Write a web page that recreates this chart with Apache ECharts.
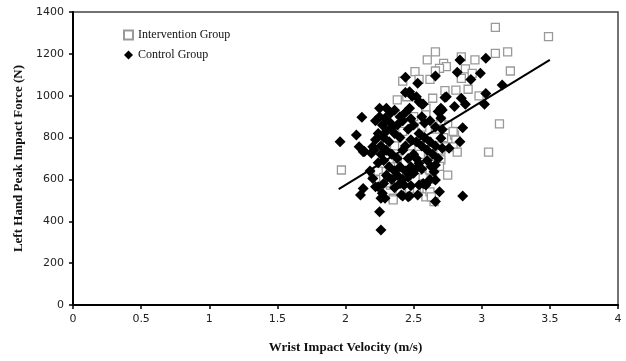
<!DOCTYPE html>
<html>
<head>
<meta charset="utf-8">
<script src="https://cdn.jsdelivr.net/npm/echarts@6/dist/echarts.min.js"></script>
<style>
  html, body { margin: 0; padding: 0; background: #fff; }
  #chart { width: 626px; height: 361px; }
</style>
</head>
<body>
<div id="chart"></div>
<script>
// x-axis ticks (m/s) and y-axis ticks (N)
const xTicks = { min: 0, max: 4, step: 0.5 };
const yTicks = { min: 0, max: 1400, step: 200 };

// open grey squares
const interventionGroup = [
  [3.10, 1327], [3.49, 1282], [2.66, 1209], [2.60, 1171], [2.85, 1186], [2.95, 1171],
  [3.10, 1202], [3.19, 1209], [3.21, 1118], [2.72, 1155], [2.74, 1139], [2.69, 1131],
  [2.66, 1118], [2.51, 1115], [2.42, 1070], [2.54, 1078], [2.62, 1078], [2.88, 1128],
  [2.93, 1107], [2.85, 1083], [2.90, 1031], [2.81, 1027], [2.73, 1024], [2.38, 980],
  [2.64, 988], [2.98, 999], [2.59, 940], [2.59, 908], [2.45, 995], [3.13, 865],
  [3.05, 730], [1.97, 645], [2.80, 812], [2.81, 788], [2.79, 756], [2.82, 730],
  [2.75, 621], [2.70, 693], [2.62, 717], [2.75, 860], [2.33, 573], [2.35, 510],
  [2.44, 541], [2.59, 517], [2.62, 541], [2.54, 557], [2.52, 549], [2.57, 613],
  [2.62, 645], [2.65, 494], [2.40, 541], [2.47, 557], [2.63, 517], [2.30, 584],
  [2.35, 502], [2.79, 829], [2.74, 756], [2.66, 710], [2.69, 662], [2.53, 645],
  [2.27, 637], [2.20, 621], [2.24, 640], [2.28, 610], [2.33, 660], [2.38, 700],
  [2.45, 620], [2.50, 680], [2.55, 720], [2.48, 760], [2.60, 780], [2.66, 840],
  [2.70, 880], [2.56, 850], [2.36, 760], [2.42, 830], [2.50, 900], [2.68, 760],
  [2.72, 800], [2.64, 600], [2.58, 580], [2.70, 740]
];

// filled black diamonds
const controlGroup = [
  [2.84, 1171], [3.03, 1179], [2.82, 1112], [2.92, 1077], [2.99, 1107], [3.15, 1051],
  [2.66, 1094], [2.44, 1088], [2.53, 1059], [2.47, 1019], [2.52, 995], [2.54, 971],
  [2.47, 940], [2.57, 960], [2.73, 991], [2.85, 988], [2.80, 948], [2.88, 959],
  [2.71, 932], [2.70, 892], [2.86, 847], [2.71, 839], [2.70, 797], [2.84, 780],
  [2.71, 749], [2.76, 749], [3.03, 1011], [3.02, 959], [2.74, 995], [2.70, 940],
  [2.68, 924], [2.44, 1015], [2.49, 998], [2.56, 959],
  [1.96, 780], [2.08, 812], [2.12, 897], [2.10, 756], [2.13, 732], [2.20, 756],
  [2.19, 725], [2.25, 940], [2.30, 940], [2.33, 916], [2.29, 892], [2.25, 900],
  [2.22, 880], [2.27, 860], [2.33, 870], [2.21, 741], [2.14, 733],
  [2.20, 605], [2.13, 557], [2.11, 526], [2.24, 565], [2.27, 534], [2.29, 510],
  [2.26, 510], [2.25, 446], [2.26, 358], [2.31, 613], [2.40, 581], [2.43, 573],
  [2.41, 526], [2.46, 517], [2.53, 526], [2.59, 573], [2.57, 581], [2.66, 494],
  [2.54, 677], [2.52, 653], [2.63, 661], [2.65, 637], [2.66, 669], [2.66, 597],
  [2.54, 573], [2.69, 541], [2.47, 521], [2.86, 521], [2.42, 521], [2.22, 565],
  [2.24, 820], [2.28, 800], [2.32, 780], [2.36, 820], [2.40, 800], [2.44, 760],
  [2.26, 760], [2.30, 740], [2.34, 720], [2.38, 700], [2.42, 740], [2.46, 700],
  [2.50, 720], [2.28, 690], [2.32, 660], [2.36, 640], [2.40, 660], [2.44, 640],
  [2.48, 660], [2.52, 700], [2.56, 760], [2.60, 740], [2.64, 720], [2.38, 860],
  [2.42, 880], [2.46, 840], [2.50, 860], [2.54, 820], [2.58, 800], [2.62, 780],
  [2.66, 760], [2.30, 830], [2.34, 850], [2.26, 720], [2.24, 680], [2.30, 620],
  [2.34, 600], [2.38, 620], [2.42, 600], [2.46, 610], [2.50, 630], [2.56, 650],
  [2.60, 690], [2.68, 700], [2.48, 790], [2.52, 780], [2.40, 900], [2.36, 930],
  [2.44, 920], [2.48, 890], [2.58, 870], [2.62, 880], [2.66, 850], [2.56, 900],
  [2.22, 790], [2.18, 640], [2.28, 580], [2.36, 560], [2.48, 570], [2.62, 600]
];

// trend line end points
const trendLine = [[1.95, 554], [3.50, 1171]];

const serif = '"Liberation Serif", "DejaVu Serif", serif';
const sans = '"DejaVu Sans", "Liberation Sans", sans-serif';

const chart = echarts.init(document.getElementById('chart'));

chart.setOption({
  animation: false,
  backgroundColor: '#fff',
  grid: {
    left: 73, right: 8, top: 12, bottom: 56,
    show: true, borderColor: '#444', borderWidth: 1.5
  },
  legend: {
    orient: 'vertical',
    left: 118, top: 24,
    itemWidth: 9, itemHeight: 9, itemGap: 8,
    textStyle: { fontFamily: serif, fontSize: 12, color: '#111' },
    data: ['Intervention Group', 'Control Group']
  },
  xAxis: {
    type: 'value',
    min: xTicks.min, max: xTicks.max, interval: xTicks.step,
    name: 'Wrist Impact Velocity (m/s)',
    nameLocation: 'middle', nameGap: 36,
    nameTextStyle: { fontFamily: serif, fontWeight: 'bold', fontSize: 13, color: '#111' },
    axisLine: { lineStyle: { color: '#000', width: 2 } },
    axisTick: { show: true, length: 4, lineStyle: { color: '#000', width: 1.5 } },
    axisLabel: { fontFamily: sans, fontSize: 11, color: '#222', margin: 9 },
    splitLine: { show: false }
  },
  yAxis: {
    type: 'value',
    min: yTicks.min, max: yTicks.max, interval: yTicks.step,
    name: 'Left Hand Peak Impact Force (N)',
    nameLocation: 'middle', nameGap: 45,
    nameTextStyle: { fontFamily: serif, fontWeight: 'bold', fontSize: 13, color: '#111' },
    axisLine: { lineStyle: { color: '#000', width: 2 } },
    axisTick: { show: true, length: 4, lineStyle: { color: '#000', width: 1.5 } },
    axisLabel: {
      fontFamily: sans, fontSize: 11, color: '#222', margin: 9,
      formatter: v => String(v)
    },
    splitLine: { show: false }
  },
  series: [
    {
      name: 'Intervention Group',
      type: 'scatter',
      symbol: 'rect',
      symbolSize: 8,
      itemStyle: { color: '#fff', borderColor: '#999', borderWidth: 1.3, opacity: 1 },
      data: interventionGroup
    },
    {
      name: 'Control Group',
      type: 'scatter',
      symbol: 'diamond',
      symbolSize: 11,
      itemStyle: { color: '#000', opacity: 1 },
      data: controlGroup
    },
    {
      name: 'trend',
      type: 'line',
      symbol: 'none',
      lineStyle: { color: '#000', width: 2 },
      data: trendLine,
      z: 5
    }
  ]
});
</script>
</body>
</html>
